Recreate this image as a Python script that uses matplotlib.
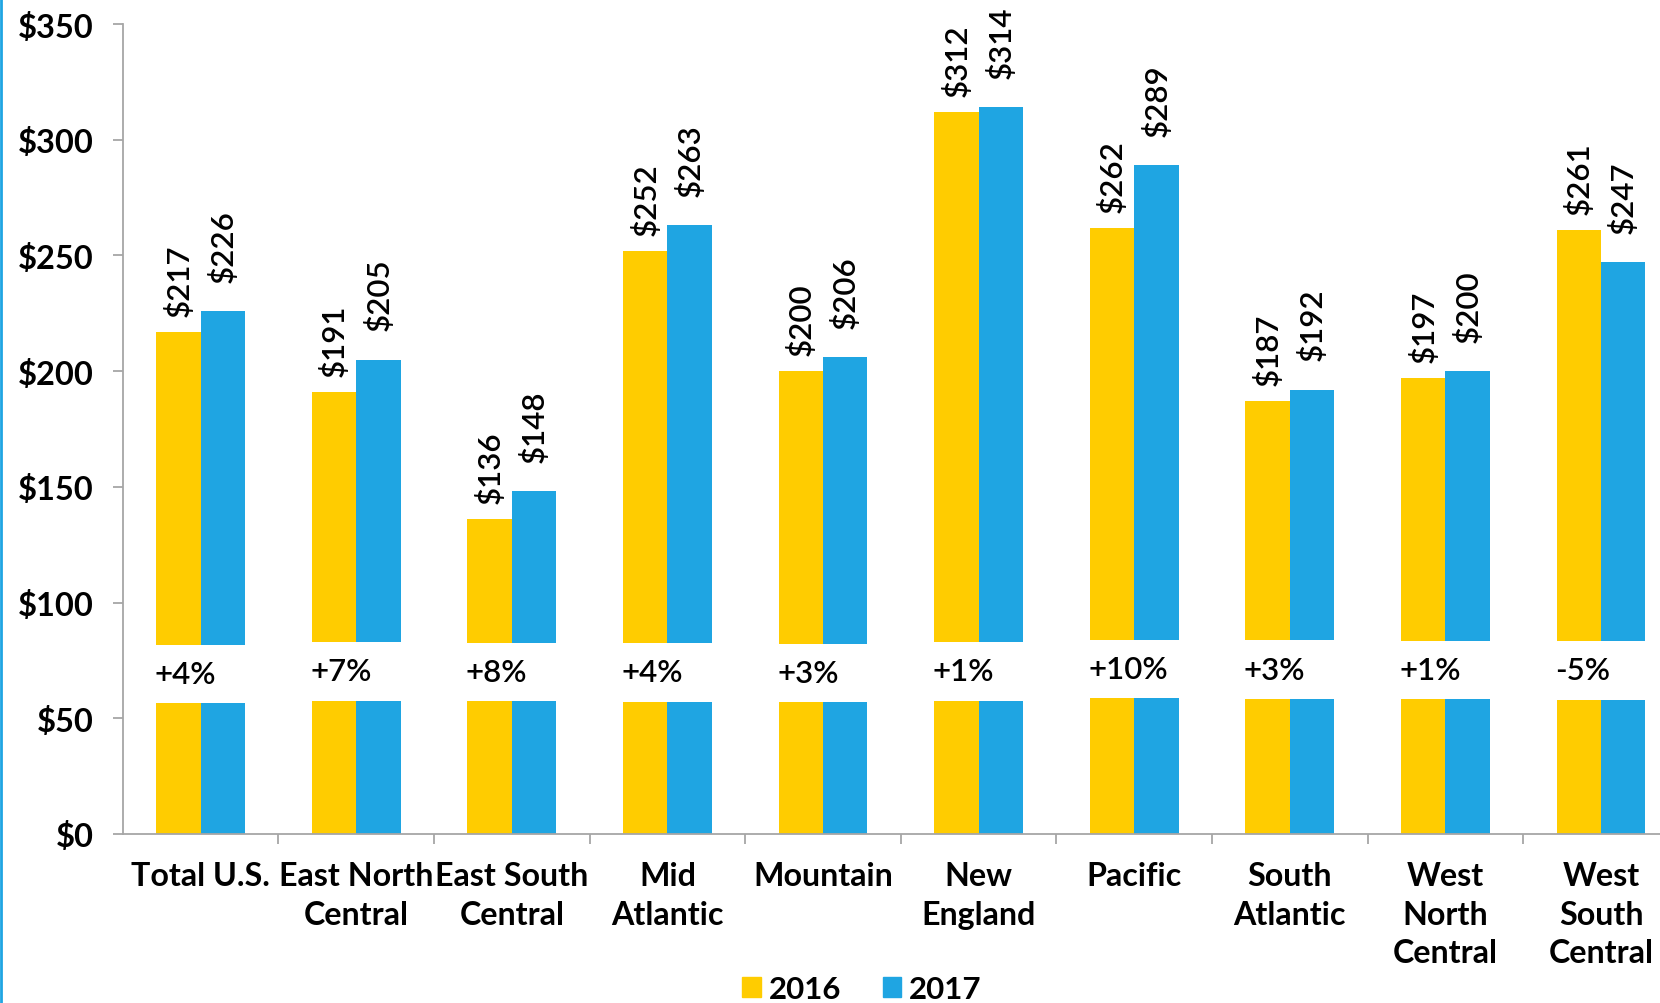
import matplotlib.pyplot as plt
from matplotlib.patches import Patch
from matplotlib.lines import Line2D
import numpy as np

# region labels and yearly values
regions = ["Total U.S.", "East North\nCentral", "East South\nCentral", "Mid\nAtlantic",
           "Mountain", "New\nEngland", "Pacific", "South\nAtlantic",
           "West\nNorth\nCentral", "West\nSouth\nCentral"]
vals_2016 = [217, 191, 136, 252, 200, 312, 262, 187, 197, 261]
vals_2017 = [226, 205, 148, 263, 206, 314, 289, 192, 200, 247]
pct_change = ["+4%", "+7%", "+8%", "+4%", "+3%", "+1%", "+10%", "+3%", "+1%", "-5%"]
# white break in each pair of bars (lower part ends, upper part starts)
gap_low = [56.6, 57.5, 57.5, 57.0, 57.0, 57.5, 58.8, 58.3, 58.3, 57.9]
gap_high = [81.7, 83.1, 82.6, 82.6, 82.2, 83.0, 83.8, 83.8, 83.4, 83.4]
yticks = [0, 50, 100, 150, 200, 250, 300, 350]

YELLOW = "#FFCC00"
BLUE = "#1FA5E2"
GREY = "#A6A6A6"

plt.rcParams["font.family"] = ["Lato", "DejaVu Sans"]

W, H = 1660, 1004
fig = plt.figure(figsize=(W / 100, H / 100), dpi=100)
# axes runs past the right edge, the original image is cropped there
ax = fig.add_axes([122.8 / W, 1 - 835 / H, 1556 / W, 810 / H])

x = np.arange(len(regions))
w = 0.285
series = [(vals_2016, -w / 2, YELLOW, 11.5), (vals_2017, w / 2, BLUE, 21)]
for vals, off, col, lab_off in series:
    vals = np.array(vals, dtype=float)
    ax.bar(x + off, gap_low, w, color=col, linewidth=0)
    ax.bar(x + off, vals - np.array(gap_high), w, bottom=gap_high, color=col, linewidth=0)
    for xi, v in zip(x + off, vals):
        ax.annotate(f"${int(v)}", (xi, v), xytext=(0, lab_off), textcoords="offset points",
                    rotation=90, ha="center", va="bottom", fontsize=22.5, fontweight="semibold")

for xi, p, lo, hi in zip(x, pct_change, gap_low, gap_high):
    ax.text(xi - w - 0.01, (lo + hi) / 2, p, ha="left", va="center",
            fontsize=22.5, fontweight="semibold")

ax.set_xlim(-0.5, len(regions) - 0.5)
ax.set_ylim(0, 350)
ax.set_yticks(yticks)
ax.set_yticklabels([f"${t}" for t in yticks], fontsize=23.5, fontweight="bold")

ax.set_xticks(np.arange(len(regions) - 1) + 0.5)
ax.set_xticklabels([])
ax.set_xticks(x, minor=True)
ax.set_xticklabels(regions, minor=True, fontsize=23.2, fontweight="bold",
                   linespacing=1.4, multialignment="center")
ax.tick_params(axis="x", which="minor", length=0, pad=19.5)
ax.tick_params(axis="x", which="major", length=7.2, width=1.3, color=GREY, direction="out")
ax.tick_params(axis="y", length=7.2, width=1.3, color=GREY, pad=13.5)

for s in ["top", "right"]:
    ax.spines[s].set_visible(False)
for s in ["left", "bottom"]:
    ax.spines[s].set_color(GREY)
    ax.spines[s].set_linewidth(1.3)

handles = [Patch(color=YELLOW, label="2016"), Patch(color=BLUE, label="2017")]
fig.legend(handles=handles, loc="center", bbox_to_anchor=(862 / W, 1 - 990 / H),
           ncol=2, frameon=False, prop={"size": 22.5, "weight": "bold"},
           handlelength=0.58, handleheight=0.58, handletextpad=0.25, columnspacing=1.35)

# thin blue frame line on the left edge
fig.add_artist(Line2D([0.0008, 0.0008], [0, 1], transform=fig.transFigure, color=BLUE, lw=2))

fig.savefig("out.png", dpi=100)
